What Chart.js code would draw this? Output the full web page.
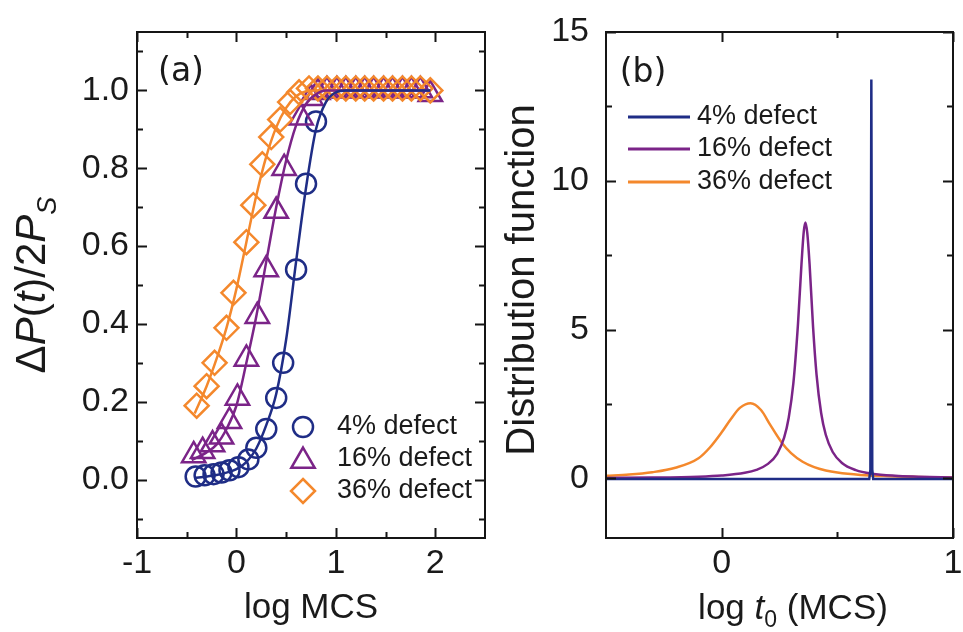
<!DOCTYPE html>
<html>
<head>
<meta charset="utf-8">
<script src="https://cdn.jsdelivr.net/npm/chart.js@4.4.1/dist/chart.umd.min.js"></script>
<style>
  html, body { margin: 0; padding: 0; background: #fff; }
  #wrap { position: relative; width: 963px; height: 632px; overflow: hidden; }
  #chartA { position: absolute; left: 0; top: 0; }
  #chartB { position: absolute; left: 490px; top: 0; }
</style>
</head>
<body>
<div id="wrap">
  <canvas id="chartA" width="490" height="632"></canvas>
  <canvas id="chartB" width="473" height="632"></canvas>
</div>
<script>
// colours
const BLUE = '#1f2d86', PURPLE = '#7b2488', ORANGE = '#f4882c';
const FONT = '"Liberation Sans", Arial, sans-serif';

// ---- panel (a): measured points ----
const seriesLabels = ['4% defect', '16% defect', '36% defect'];

const blueX = [-0.41, -0.32, -0.23, -0.15, -0.07, 0.02, 0.12, 0.20, 0.30, 0.40, 0.47, 0.60, 0.70, 0.80];
const blueY = [0.008, 0.011, 0.014, 0.018, 0.024, 0.032, 0.052, 0.082, 0.13, 0.21, 0.30, 0.54, 0.76, 0.92];

const purpleX = [-0.43, -0.34, -0.24, -0.15, -0.07, 0.01, 0.10, 0.21, 0.30, 0.40, 0.48, 0.65, 0.75, 0.82, 0.91, 1.01, 1.10, 1.20, 1.29, 1.38, 1.48, 1.57, 1.67, 1.76, 1.85, 1.95];
const purpleY = [0.062, 0.073, 0.09, 0.11, 0.15, 0.21, 0.31, 0.42, 0.54, 0.69, 0.80, 0.93, 0.98, 0.995, 1.0, 1.0, 1.0, 1.0, 1.0, 1.0, 1.0, 1.0, 1.0, 1.0, 1.0, 0.99];

const orangeX = [-0.40, -0.30, -0.22, -0.10, -0.03, 0.10, 0.17, 0.26, 0.35, 0.44, 0.54, 0.63, 0.73, 0.82, 0.91, 1.01, 1.10, 1.20, 1.29, 1.38, 1.48, 1.57, 1.67, 1.76, 1.85, 1.95];
const orangeY = [0.19, 0.24, 0.30, 0.39, 0.48, 0.61, 0.705, 0.81, 0.88, 0.925, 0.97, 0.995, 1.005, 1.005, 1.005, 1.005, 1.005, 1.005, 1.005, 1.005, 1.005, 1.005, 1.005, 1.005, 1.005, 1.0];

// ---- panel (a): fitted curves ----
const blueFitX = [-0.42, -0.3, -0.2, -0.1, 0, 0.1, 0.2, 0.3, 0.4, 0.5, 0.6, 0.7, 0.8, 0.9, 1.0, 1.1, 1.95];
const blueFitY = [0.004, 0.008, 0.012, 0.018, 0.027, 0.045, 0.08, 0.14, 0.22, 0.36, 0.56, 0.75, 0.90, 0.97, 0.995, 1.0, 1.0];
const purpleFitX = [-0.45, -0.3, -0.2, -0.1, 0, 0.1, 0.2, 0.3, 0.4, 0.5, 0.6, 0.7, 0.8, 0.9, 1.0, 1.95];
const purpleFitY = [0.05, 0.07, 0.09, 0.13, 0.19, 0.30, 0.42, 0.56, 0.70, 0.82, 0.91, 0.965, 0.99, 1.0, 1.0, 1.0];
const orangeFitX = [-0.42, -0.3, -0.2, -0.1, 0, 0.1, 0.2, 0.3, 0.4, 0.5, 0.6, 0.7, 0.8, 1.95];
const orangeFitY = [0.17, 0.24, 0.31, 0.39, 0.49, 0.61, 0.73, 0.83, 0.905, 0.955, 0.985, 0.998, 1.0, 1.0];

const xTicksA = [-1, 0, 1, 2];
const xMinorA = [-0.5, 0.5, 1.5];
const yTicksA = [0, 0.2, 0.4, 0.6, 0.8, 1.0];
const yMinorA = [-0.1, 0.1, 0.3, 0.5, 0.7, 0.9, 1.1];

// ---- panel (b): distribution functions ----
const distBlueX = [-0.5, 0.638, 0.643, 0.647, 0.651, 0.655, 1.0];
const distBlueY = [-0.02, -0.02, 0.3, 13.4, 0.3, -0.02, -0.02];
const distPurpleX = [-0.5, -0.3, -0.1, 0.0, 0.1, 0.15, 0.2, 0.24, 0.27, 0.29, 0.31, 0.33, 0.345, 0.355, 0.362, 0.37, 0.38, 0.395, 0.41, 0.43, 0.45, 0.48, 0.52, 0.58, 0.65, 0.75, 0.85, 1.0];
const distPurpleY = [0.02, 0.03, 0.06, 0.10, 0.19, 0.29, 0.49, 0.83, 1.37, 2.05, 3.2, 5.2, 7.2, 8.3, 8.6, 8.25, 7.2, 5.1, 3.5, 2.2, 1.47, 0.89, 0.52, 0.28, 0.16, 0.09, 0.06, 0.03];
const distOrangeX = [-0.5, -0.4, -0.3, -0.2, -0.1, -0.05, 0, 0.04, 0.08, 0.125, 0.17, 0.21, 0.26, 0.3, 0.35, 0.4, 0.45, 0.5, 0.6, 0.7, 0.85, 1.0];
const distOrangeY = [0.09, 0.13, 0.21, 0.36, 0.68, 1.05, 1.55, 2.0, 2.38, 2.53, 2.3, 1.8, 1.2, 0.85, 0.56, 0.38, 0.27, 0.2, 0.12, 0.08, 0.05, 0.03];

const xTicksB = [0, 1];
const xMinorB = [0.5];
const yTicksB = [0, 5, 10, 15];
const yMinorB = [2.5, 7.5, 12.5];

const zip = (xs, ys) => xs.map((x, i) => ({ x, y: ys[i] }));

// frame with inward ticks on all four sides
const frameTicks = {
  id: 'frameTicks',
  afterDraw(chart, args, o) {
    const { ctx, chartArea: a, scales: { x, y } } = chart;
    ctx.save();
    ctx.strokeStyle = '#151515';
    ctx.lineWidth = 2;
    ctx.beginPath();
    const mark = (vals, len, vertical) => {
      vals.forEach(v => {
        if (vertical) {
          const px = Math.round(x.getPixelForValue(v)) + 0.5;
          ctx.moveTo(px, a.bottom); ctx.lineTo(px, a.bottom - len);
          ctx.moveTo(px, a.top); ctx.lineTo(px, a.top + len);
        } else {
          const py = Math.round(y.getPixelForValue(v)) + 0.5;
          ctx.moveTo(a.left, py); ctx.lineTo(a.left + len, py);
          ctx.moveTo(a.right, py); ctx.lineTo(a.right - len, py);
        }
      });
    };
    mark(o.majorX, 10, true); mark(o.minorX, 6, true);
    mark(o.majorY, 10, false); mark(o.minorY, 6, false);
    ctx.stroke();
    ctx.strokeRect(a.left, a.top, a.right - a.left, a.bottom - a.top);
    ctx.restore();
  }
};

// text made of normal / italic / subscript pieces
function drawRich(ctx, parts, cx, cy, rot, size) {
  ctx.save();
  ctx.translate(cx, cy);
  ctx.rotate(rot);
  ctx.fillStyle = '#1a1a1a';
  ctx.textBaseline = 'alphabetic';
  ctx.textAlign = 'left';
  const fontOf = p => (p.it ? 'italic ' : '') + Math.round(p.sub ? size * 0.65 : size) + 'px ' + FONT;
  let total = 0;
  parts.forEach(p => { ctx.font = fontOf(p); p.w = ctx.measureText(p.t).width; total += p.w; });
  let px = -total / 2;
  const base = size * 0.36;
  parts.forEach(p => {
    ctx.font = fontOf(p);
    ctx.fillText(p.t, px, base + (p.sub ? size * 0.25 : 0));
    px += p.w;
  });
  ctx.restore();
}

function marker(ctx, style, x, y, color) {
  ctx.save();
  ctx.strokeStyle = color;
  ctx.lineWidth = 2.5;
  ctx.beginPath();
  if (style === 'circle') {
    ctx.arc(x, y, 10, 0, Math.PI * 2);
  } else if (style === 'triangle') {
    const r = 13.5;
    ctx.moveTo(x, y - r);
    ctx.lineTo(x + 0.866 * r, y + 0.5 * r);
    ctx.lineTo(x - 0.866 * r, y + 0.5 * r);
    ctx.closePath();
  } else {
    const r = 12;
    ctx.moveTo(x, y - r); ctx.lineTo(x + r, y); ctx.lineTo(x, y + r); ctx.lineTo(x - r, y);
    ctx.closePath();
  }
  ctx.stroke();
  ctx.restore();
}

const decorA = {
  id: 'decorA',
  afterDraw(chart) {
    const ctx = chart.ctx;
    ctx.save();
    ctx.fillStyle = '#1a1a1a';
    ctx.font = '33px "DejaVu Sans", sans-serif';
    ctx.textAlign = 'center';
    ctx.textBaseline = 'middle';
    ctx.fillText('(a)', 181, 72);
    // legend
    const styles = ['circle', 'triangle', 'rectRot'];
    const cols = [BLUE, PURPLE, ORANGE];
    const rows = [427, 459, 491];
    ctx.font = '27px ' + FONT;
    ctx.textAlign = 'left';
    rows.forEach((ry, i) => {
      marker(ctx, styles[i], 303, ry + (i === 1 ? 2 : 0), cols[i]);
      ctx.fillStyle = '#1a1a1a';
      ctx.fillText(seriesLabels[i], 337, ry);
    });
    ctx.restore();
    drawRich(ctx, [{ t: 'log MCS' }], 311, 605, 0, 35);
    drawRich(ctx, [{ t: '\u0394' }, { t: 'P', it: true }, { t: '(' }, { t: 't', it: true }, { t: ')/2' }, { t: 'P', it: true }, { t: 'S', it: true, sub: true }], 30, 285, -Math.PI / 2, 42);
  }
};

const decorB = {
  id: 'decorB',
  afterDraw(chart) {
    const ctx = chart.ctx;
    ctx.save();
    ctx.fillStyle = '#1a1a1a';
    ctx.font = '33px "DejaVu Sans", sans-serif';
    ctx.textAlign = 'center';
    ctx.textBaseline = 'middle';
    ctx.fillText('(b)', 153, 73);
    const cols = [BLUE, PURPLE, ORANGE];
    const rows = [117, 149, 182];
    ctx.font = '27px ' + FONT;
    ctx.textAlign = 'left';
    rows.forEach((ry, i) => {
      ctx.strokeStyle = cols[i];
      ctx.lineWidth = 3;
      ctx.beginPath();
      ctx.moveTo(138, ry); ctx.lineTo(200, ry);
      ctx.stroke();
      ctx.fillStyle = '#1a1a1a';
      ctx.fillText(seriesLabels[i], 207, ry);
    });
    ctx.restore();
    drawRich(ctx, [{ t: 'log ' }, { t: 't', it: true }, { t: '0', sub: true }, { t: ' (MCS)' }], 303, 606, 0, 35);
    drawRich(ctx, [{ t: 'Distribution function' }], 30, 280, -Math.PI / 2, 40);
  }
};

const tickFont = { family: FONT, size: 34 };

function axis(min, max, ticks, fmt, pad, fitKey, fitVal) {
  return {
    type: 'linear', min, max,
    grid: { display: false, drawTicks: false },
    border: { display: false },
    ticks: { font: tickFont, color: '#1a1a1a', padding: pad, maxRotation: 0, autoSkip: false, callback: fmt },
    afterBuildTicks: s => { s.ticks = ticks.map(v => ({ value: v })); },
    afterFit: s => {
      s[fitKey] = fitVal;
      s.paddingLeft = 0; s.paddingRight = 0; s.paddingTop = 0; s.paddingBottom = 0;
    }
  };
}

const lineSet = (data, color, order) => ({
  data, showLine: true, borderColor: color, borderWidth: 2.5, pointRadius: 0,
  cubicInterpolationMode: 'monotone', fill: false, order
});
const pointSet = (data, color, style, radius, order) => ({
  data, showLine: false, pointStyle: style, pointRadius: radius, pointBorderWidth: 2.5,
  pointBorderColor: color, pointBackgroundColor: 'rgba(0,0,0,0)', order
});

new Chart(document.getElementById('chartA'), {
  type: 'scatter',
  data: {
    datasets: [
      lineSet(zip(blueFitX, blueFitY), BLUE, 0),
      lineSet(zip(purpleFitX, purpleFitY), PURPLE, 1),
      lineSet(zip(orangeFitX, orangeFitY), ORANGE, 2),
      pointSet(zip(orangeX, orangeY), ORANGE, 'rectRot', 12, 3),
      pointSet(zip(purpleX, purpleY), PURPLE, 'triangle', 13.5, 4),
      pointSet(zip(blueX, blueY), BLUE, 'circle', 10, 5)
    ]
  },
  options: {
    responsive: false, animation: false,
    layout: { autoPadding: false, padding: { top: 32, right: 5, left: 0, bottom: 0 } },
    plugins: {
      legend: { display: false }, tooltip: { enabled: false },
      frameTicks: { majorX: xTicksA, minorX: xMinorA, majorY: yTicksA, minorY: yMinorA }
    },
    scales: {
      x: axis(-1, 2.5, xTicksA, v => String(v), 5, 'height', 94),
      y: axis(-0.15, 1.15, yTicksA, v => v.toFixed(1), 8, 'width', 137)
    }
  },
  plugins: [frameTicks, decorA]
});

new Chart(document.getElementById('chartB'), {
  type: 'scatter',
  data: {
    datasets: [
      { data: zip(distBlueX, distBlueY), showLine: true, borderColor: BLUE, borderWidth: 2.5, pointRadius: 0, tension: 0, order: 0 },
      lineSet(zip(distPurpleX, distPurpleY), PURPLE, 1),
      lineSet(zip(distOrangeX, distOrangeY), ORANGE, 2)
    ]
  },
  options: {
    responsive: false, animation: false,
    layout: { autoPadding: false, padding: { top: 32, right: 10, left: 0, bottom: 0 } },
    plugins: {
      legend: { display: false }, tooltip: { enabled: false },
      frameTicks: { majorX: xTicksB, minorX: xMinorB, majorY: yTicksB, minorY: yMinorB }
    },
    scales: {
      x: axis(-0.5, 1, xTicksB, v => String(v), 5, 'height', 94),
      y: axis(-2, 15, yTicksB, v => String(v), 17, 'width', 116)
    }
  },
  plugins: [frameTicks, decorB]
});
</script>
</body>
</html>
